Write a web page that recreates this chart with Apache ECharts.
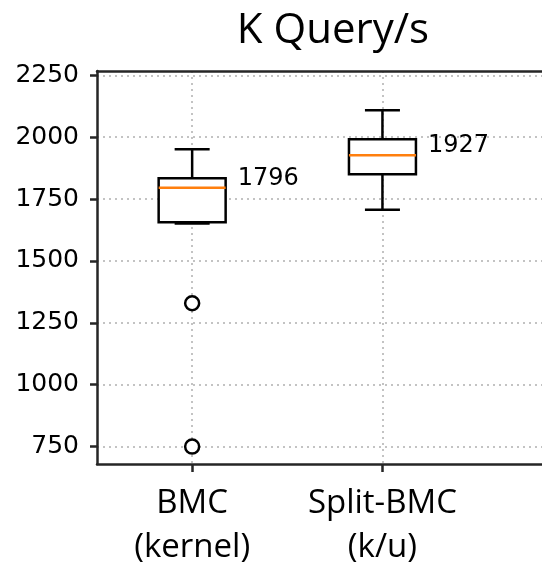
<!DOCTYPE html>
<html>
<head>
<meta charset="utf-8">
<script src="https://cdn.jsdelivr.net/npm/echarts@6/dist/echarts.min.js"></script>
<style>
  html, body { margin: 0; padding: 0; background: #fff; overflow: hidden; }
  #main { width: 542px; height: 564px; }
</style>
</head>
<body>
<div id="main"></div>
<script>
// box positions and their labels (the plot runs off the right edge)
const positions = [1, 2];
const categories = ['BMC\n(kernel)', 'Split-BMC\n(k/u)'];
const whiskerLow = [1651, 1707];
const q1 = [1656, 1850];
const median = [1796, 1927];
const q3 = [1834, 1992];
const whiskerHigh = [1951, 2109];
const outliers = [[1, 1329], [1, 750]];
const yTicks = [750, 1000, 1250, 1500, 1750, 2000, 2250];

const boxData = positions.map((p, i) => [p, whiskerLow[i], q1[i], median[i], q3[i], whiskerHigh[i]]);

const AXIS_COLOR = '#262626';
const GRID_COLOR = '#b0b0b0';

function renderBox(params, api) {
  const x = api.value(0);
  const unit = api.size([1, 0])[0];
  const half = unit * 0.176;
  const cap = unit * 0.092;
  const lo = api.coord([x, api.value(1)]);
  const b1 = api.coord([x, api.value(2)]);
  const md = api.coord([x, api.value(3)]);
  const b3 = api.coord([x, api.value(4)]);
  const hi = api.coord([x, api.value(5)]);
  const cx = md[0];
  const stroke = { stroke: '#000', lineWidth: 2.5, fill: null };
  return {
    type: 'group',
    children: [
      { type: 'line', shape: { x1: cx, y1: hi[1], x2: cx, y2: b3[1] }, style: stroke },
      { type: 'line', shape: { x1: cx, y1: b1[1], x2: cx, y2: lo[1] }, style: stroke },
      { type: 'line', shape: { x1: cx - cap, y1: hi[1], x2: cx + cap, y2: hi[1] }, style: stroke },
      { type: 'line', shape: { x1: cx - cap, y1: lo[1], x2: cx + cap, y2: lo[1] }, style: stroke },
      { type: 'rect', shape: { x: cx - half, y: b3[1], width: half * 2, height: b1[1] - b3[1] },
        style: { stroke: '#000', lineWidth: 2.5, fill: '#fff' } },
      { type: 'line', shape: { x1: cx - half, y1: md[1], x2: cx + half, y2: md[1] },
        style: { stroke: '#ff7f0e', lineWidth: 2.5 } },
      { type: 'text', x: cx + half + 12, y: md[1] - 9,
        style: { text: String(api.value(3)), font: '24px "DejaVu Sans"', fill: '#000',
                 textAlign: 'left', textVerticalAlign: 'middle' } }
    ]
  };
}

const option = {
  animation: false,
  backgroundColor: '#fff',
  title: {
    text: 'K Query/s',
    left: 328,
    top: 5,
    textAlign: 'center',
    textStyle: { fontFamily: 'Open Sans', fontSize: 42, fontWeight: 'normal', color: '#000' }
  },
  grid: {
    left: 97,
    top: 71,
    right: -10,
    bottom: 100,
    outerBoundsMode: 'none'
  },
  xAxis: [
    {
      type: 'value',
      min: 0.5,
      max: 2.891,
      axisLine: { show: true, lineStyle: { color: AXIS_COLOR, width: 2.5 } },
      axisTick: { show: true, length: 8, customValues: positions,
                  lineStyle: { color: AXIS_COLOR, width: 2.5 } },
      axisLabel: { customValues: positions, margin: 18, fontFamily: 'Open Sans', fontSize: 33,
                   lineHeight: 44, color: '#000',
                   formatter: (v) => categories[positions.indexOf(v)] },
      splitLine: { show: true, lineStyle: { color: GRID_COLOR, type: [2, 4], width: 1.5 } }
    },
    {
      type: 'value',
      position: 'top',
      min: 0.5,
      max: 2.891,
      axisLine: { show: true, lineStyle: { color: AXIS_COLOR, width: 2.5 } },
      axisTick: { show: false },
      axisLabel: { show: false },
      splitLine: { show: false }
    }
  ],
  yAxis: {
    type: 'value',
    min: 679.7,
    max: 2267.4,
    axisLine: { show: true, lineStyle: { color: AXIS_COLOR, width: 2.5 } },
    axisTick: { show: true, length: 7, customValues: yTicks,
                lineStyle: { color: AXIS_COLOR, width: 2.5 } },
    axisLabel: { customValues: yTicks, margin: 18, fontFamily: 'DejaVu Sans',
                 fontSize: 25, color: '#000', formatter: (v) => String(v) },
    splitLine: { show: true, lineStyle: { color: GRID_COLOR, type: [2, 4], width: 1.5 } }
  },
  series: [
    {
      type: 'custom',
      renderItem: renderBox,
      encode: { x: 0, y: [1, 2, 3, 4, 5] },
      data: boxData,
      z: 3
    },
    {
      type: 'scatter',
      data: outliers,
      symbol: 'circle',
      symbolSize: 14,
      itemStyle: { color: '#fff', borderColor: '#000', borderWidth: 2.5, opacity: 1 },
      z: 4
    }
  ]
};

const chart = echarts.init(document.getElementById('main'), null, { renderer: 'canvas', width: 542, height: 564 });
chart.setOption(option);
</script>
</body>
</html>
